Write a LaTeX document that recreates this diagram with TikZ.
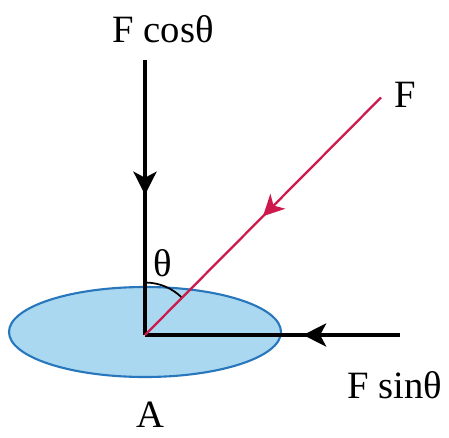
\documentclass[tikz,border=0pt]{standalone}
\usepackage{fontspec}
\setmainfont{Liberation Serif}
\usetikzlibrary{arrows.meta,decorations.markings}
\definecolor{discfill}{RGB}{170,216,240}
\definecolor{discline}{RGB}{40,118,188}
\definecolor{forcered}{RGB}{205,25,75}
\tikzstyle{comp}=[black, line width=2.3pt]
\tikzstyle{force}=[forcered, line width=1.3pt]
\tikzstyle{lbl}=[font=\fontsize{22}{26}\selectfont, inner sep=0pt]
\tikzset{midarrow/.style 2 args={postaction={decorate}, decoration={markings,
  mark=at position #1 with {\arrow{Stealth[length=#2,width=#2,inset=1.2mm]}}}}}

\begin{document}
\begin{tikzpicture}
				\useasboundingbox (-2.9,-2.04) rectangle (6.08,6.7);
				% Area A
				\fill[discfill, draw=discline, line width=1.2pt] (0,0.06) ellipse [x radius=2.72, y radius=0.9];

				\coordinate (O) at (0,0);
				\coordinate (top) at (0,5.5);
				\coordinate (Fend) at (4.72,4.75);
				\coordinate (right) at (5.1,0);

				% angle between F and the normal
				\draw[black, line width=1pt] (0,1.05) arc[start angle=90, end angle=45, radius=1.05];

				% components and the force
				\draw[comp, midarrow={0.49}{4.6mm}] (top) -- (O);
				\draw[comp, midarrow={0.38}{4.6mm}] (right) -- (O);
				\draw[force, midarrow={0.5}{4.2mm}] (Fend) -- (O);

				\node[lbl] (cosl) at (0.36,6.12) {F cosθ};
				\node[lbl] (fl) at (5.2,4.8) {F};
				\node[lbl] (sinl) at (5.0,-1.0) {F sinθ};
				\node[lbl] (thl) at (0.36,1.44) {θ};
				\node[lbl] (al) at (0.1,-1.6) {A};
			\end{tikzpicture}
\end{document}
